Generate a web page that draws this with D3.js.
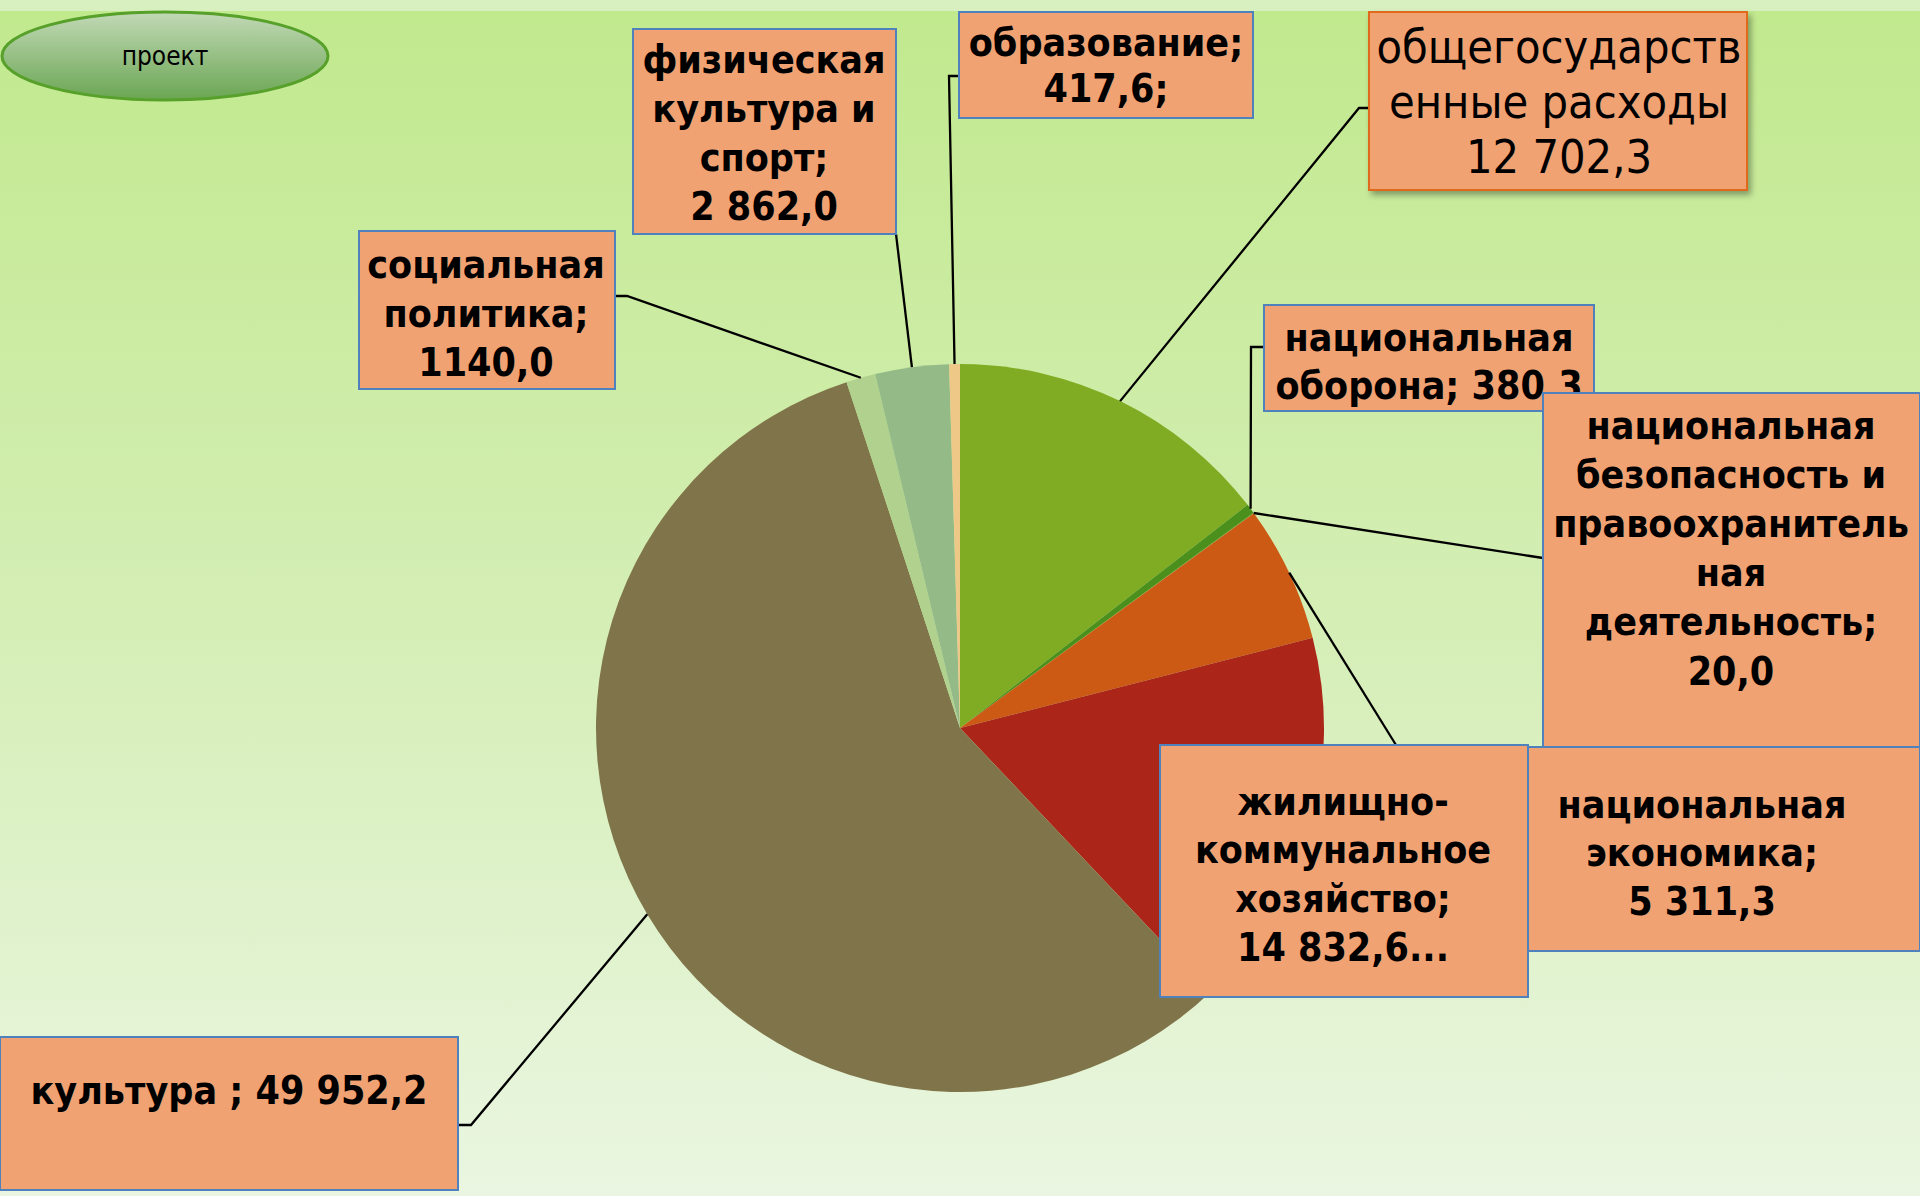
<!DOCTYPE html>
<html>
<head>
<meta charset="utf-8">
<script src="https://cdn.jsdelivr.net/npm/d3@7"></script>
<style>
  html, body { margin: 0; padding: 0; overflow: hidden; }
  svg { display: block; }
</style>
</head>
<body>
<div id="chart"></div>
<script>
// данные
const categories = ["общегосударственные расходы", "национальная оборона",
  "национальная безопасность и правоохранительная деятельность", "национальная экономика",
  "жилищно-коммунальное хозяйство", "культура", "социальная политика",
  "физическая культура и спорт", "образование"];
const values = [12702.3, 380.3, 20.0, 5311.3, 14832.6, 49952.2, 1140.0, 2862.0, 417.6];
const sliceColors = ["#80ac23", "#4b8f1d", "#5e9a2a", "#cc5a15", "#ab2619", "#80754a", "#b1d28e", "#93ba87", "#edc886"];
const labelLines = [
  ["общегосударств", "енные расходы", "12 702,3"],
  ["национальная", "оборона; 380,3"],
  ["национальная", "безопасность и", "правоохранитель", "ная", "деятельность;", "20,0"],
  ["национальная", "экономика;", "5 311,3"],
  ["жилищно-", "коммунальное", "хозяйство;", "14 832,6..."],
  ["культура ; 49 952,2"],
  ["социальная", "политика;", "1140,0"],
  ["физическая", "культура и", "спорт;", "2 862,0"],
  ["образование;", "417,6;"]
];

// расположение подписей (x, y, w, h, центр текста, первая строка, шаг, точки выноски)
const labelLayout = [
  {x:1369, y:12, w:378, h:178, cx:1559, y0:47, dy:55, size:46.5, weight:"normal", border:"#e0691c", shadow:true, leader:[[1369,108],[1359,108]]},
  {x:1264, y:305, w:330, h:106, cx:1429, y0:337, dy:48, size:39, weight:"bold", leader:[[1264,347],[1251,347]]},
  {x:1543, y:393, w:377, h:354, cx:1731, y0:425, dy:49.2, size:39, weight:"bold", leader:[[1543,558],[1530,556]]},
  {x:1528, y:747, w:392, h:204, cx:1702, y0:804, dy:48.5, size:39, weight:"bold", leader:[[1396,745]]},
  {x:1160, y:745, w:368, h:252, cx:1343, y0:801, dy:48.7, size:39, weight:"bold", leader:null},
  {x:0, y:1037, w:458, h:153, cx:229, y0:1090, dy:0, size:39, weight:"bold", leader:[[458,1125],[471,1125]]},
  {x:359, y:231, w:256, h:158, cx:486, y0:264, dy:49, size:39, weight:"bold", leader:[[615,296],[627,296]]},
  {x:633, y:29, w:263, h:205, cx:764, y0:59, dy:49, size:39, weight:"bold", leader:[[896,234]]},
  {x:959, y:12, w:294, h:106, cx:1106, y0:42, dy:46, size:39, weight:"bold", leader:[[959,76],[949,76]]}
];
// порядок отрисовки подписей
const drawOrder = [8, 7, 6, 0, 1, 2, 3, 4, 5];

const width = 1920, height = 1196;
const cx = 960, cy = 728, radius = 364;

const svg = d3.select("#chart").append("svg")
  .attr("width", width)
  .attr("height", height);

const defs = svg.append("defs");
const bg = defs.append("linearGradient").attr("id", "bg").attr("x1", 0).attr("y1", 0).attr("x2", 0).attr("y2", 1);
bg.append("stop").attr("offset", "0%").attr("stop-color", "#c1e98d");
bg.append("stop").attr("offset", "50%").attr("stop-color", "#d4eeb4");
bg.append("stop").attr("offset", "100%").attr("stop-color", "#eaf6e1");

const oval = defs.append("linearGradient").attr("id", "oval").attr("x1", 0).attr("y1", 0).attr("x2", 0).attr("y2", 1);
oval.append("stop").attr("offset", "0%").attr("stop-color", "#c2d9b6");
oval.append("stop").attr("offset", "100%").attr("stop-color", "#6aa653");

const shadow = defs.append("filter").attr("id", "shadow").attr("x", "-10%").attr("y", "-10%").attr("width", "130%").attr("height", "130%");
shadow.append("feDropShadow").attr("dx", 3).attr("dy", 4).attr("stdDeviation", 3).attr("flood-color", "#000").attr("flood-opacity", 0.35);

svg.append("rect").attr("width", width).attr("height", height).attr("fill", "url(#bg)");
svg.append("rect").attr("width", width).attr("height", 11).attr("fill", "#d8f0c0");

// овал "проект"
svg.append("ellipse")
  .attr("cx", 165).attr("cy", 56).attr("rx", 163).attr("ry", 44)
  .attr("fill", "url(#oval)")
  .attr("stroke", "#57a02a").attr("stroke-width", 3);
svg.append("text")
  .attr("x", 165).attr("y", 56)
  .attr("dy", "0.35em")
  .attr("text-anchor", "middle")
  .style("font-family", "'DejaVu Sans Condensed', 'DejaVu Sans', sans-serif")
  .style("font-size", "26px")
  .text("проект");

// круговая диаграмма
const pie = d3.pie().sort(null).value(d => d)(values);
const arc = d3.arc().innerRadius(0).outerRadius(radius);
const edge = d3.arc().innerRadius(radius).outerRadius(radius);

const g = svg.append("g").attr("transform", "translate(" + cx + "," + cy + ")");
g.selectAll("path").data(pie).enter()
  .append("path")
  .attr("d", arc)
  .attr("fill", (d, i) => sliceColors[i]);

// выноски
const line = d3.line();
labelLayout.forEach((l, i) => {
  if (!l.leader) return;
  const c = edge.centroid(pie[i]);
  const pts = l.leader.concat([[cx + c[0], cy + c[1]]]);
  svg.append("path")
    .attr("d", line(pts))
    .attr("fill", "none")
    .attr("stroke", "#000")
    .attr("stroke-width", 2.3);
});

// подписи
drawOrder.forEach(i => {
  const l = labelLayout[i];
  const lg = svg.append("g");
  lg.append("rect")
    .attr("x", l.x).attr("y", l.y).attr("width", l.w).attr("height", l.h)
    .attr("fill", "#f0a273")
    .attr("stroke", l.border || "#4f81bd")
    .attr("stroke-width", 2)
    .attr("filter", l.shadow ? "url(#shadow)" : null);
  lg.selectAll("text").data(labelLines[i]).enter()
    .append("text")
    .attr("x", l.cx)
    .attr("y", (d, j) => l.y0 + j * l.dy)
    .attr("dy", "0.35em")
    .attr("text-anchor", "middle")
    .style("font-family", "'DejaVu Sans Condensed', 'DejaVu Sans', sans-serif")
    .style("font-size", l.size + "px")
    .style("font-weight", l.weight)
    .text(d => d);
});
</script>
</body>
</html>
